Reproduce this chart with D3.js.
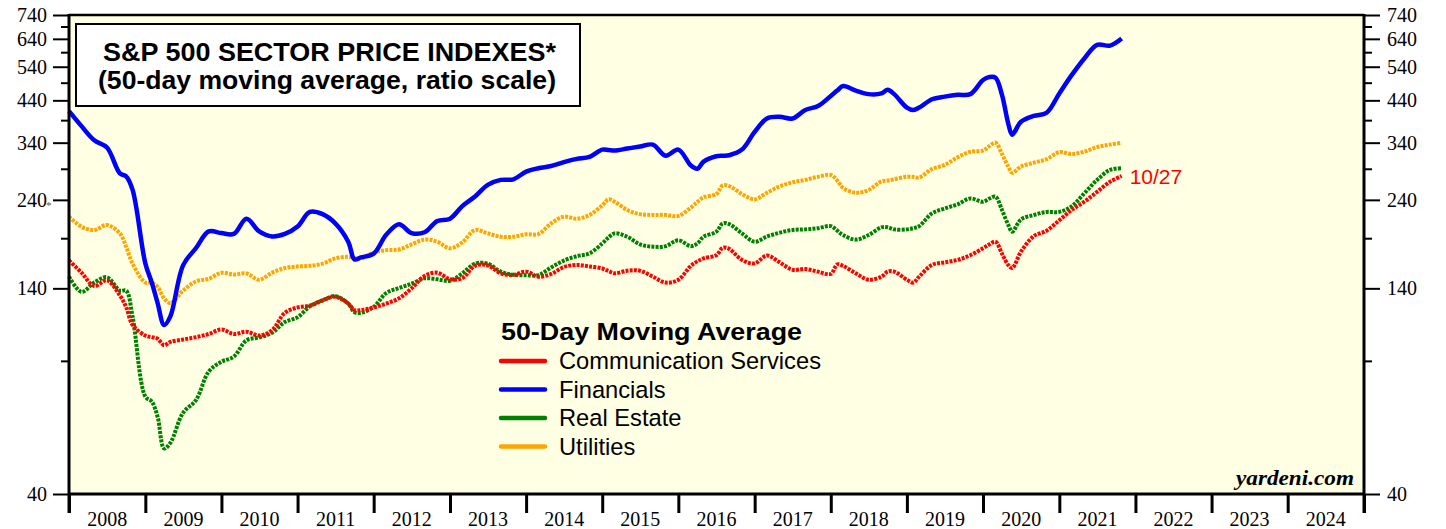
<!DOCTYPE html>
<html><head><meta charset="utf-8">
<script src="https://cdn.jsdelivr.net/npm/d3@7"></script>
<style>html,body{margin:0;padding:0;background:#fff;}svg{display:block;}</style>
</head><body>
<svg id="chart" width="1446" height="529"></svg>
<script>
const dates = ["2008-01-01","2008-03-01","2008-05-01","2008-07-01","2008-09-01","2008-10-01","2008-11-01",
"2009-01-01","2009-02-01","2009-03-01","2009-04-01","2009-05-01","2009-07-01","2009-09-01","2009-11-01",
"2010-01-01","2010-03-01","2010-05-01","2010-07-01","2010-09-01","2010-11-01",
"2011-01-01","2011-03-01","2011-05-01","2011-07-01","2011-09-01","2011-10-01","2011-11-01",
"2012-01-01","2012-03-01","2012-05-01","2012-07-01","2012-09-01","2012-11-01",
"2013-01-01","2013-03-01","2013-05-01","2013-07-01","2013-09-01","2013-11-01",
"2014-01-01","2014-03-01","2014-05-01","2014-07-01","2014-09-01","2014-11-01",
"2015-01-01","2015-02-01","2015-03-01","2015-05-01","2015-07-01","2015-09-01","2015-11-01",
"2016-01-01","2016-03-01","2016-04-01","2016-05-01","2016-07-01","2016-08-01","2016-09-01","2016-11-01",
"2017-01-01","2017-03-01","2017-05-01","2017-07-01","2017-09-01","2017-11-01",
"2018-01-01","2018-02-01","2018-03-01","2018-05-01","2018-07-01","2018-09-01","2018-10-01","2018-11-01",
"2019-01-01","2019-02-01","2019-03-01","2019-05-01","2019-07-01","2019-09-01","2019-11-01",
"2020-01-01","2020-02-01","2020-03-01","2020-04-01","2020-05-01","2020-05-20","2020-07-01","2020-09-01","2020-11-01",
"2021-01-01","2021-03-01","2021-05-01","2021-07-01","2021-09-01","2021-10-27"];

const financials = [412,376,345,330,282,277,255,
163,145,128,112,118,161,179,198,
196,195,214,198,192,195,
204,223,220,208,186,167,169,
173,194,207,196,197,211,
214,231,245,263,271,272,
285,291,295,302,308,312,
326,325,324,328,332,336,314,
326,296,290,303,313,314,315,326,
363,394,398,394,415,425,
452,467,480,467,457,459,469,457,
421,415,421,443,450,455,457,
498,507,505,455,382,357,386,400,408,
459,513,568,617,614,641];

const commServices = [166,154,142,147,134,125,112,
105,104,103,99,101,102.5,104,106,
109,106,107.5,105,108.5,120.6,
124.6,126,130,133,127.6,122.6,122.6,
124.6,127.6,131.7,140,151,154,
148,149,160.6,161,153.4,152,
155,150.3,152.8,159.4,161.4,160,
158,155.5,153.4,155.9,155.9,150.3,145,
147.5,160.6,165,168,171.3,179.3,178,166.5,
163,171,164,156.8,157.5,155,
152.8,162,160.6,153.4,147.5,150.3,155,155,
147.5,145,150.3,161.4,164,166.5,171.3,
178.7,183,186,173,161.4,158.4,175,192.5,198.9,
212,225.6,237.3,252,268,277.5];

const realEstate = [150.3,137,145,149.8,138,138,117.8,
72.4,70.2,64,52.8,54.6,65.6,70.9,84.3,
89.5,92.3,102,103.8,106.8,114,
117.4,125.5,130.2,133.5,127.6,121,120.6,
125,136,140.3,144,148.8,147.9,
146.6,153.4,162.7,162.7,155,152,
151.7,151.7,159,165.8,170.3,173.3,
184,191,195.7,191.7,183,180.4,181,
187.6,181,184,191.7,197.6,208,207,195.7,
186,192,196.5,199.7,200.5,202,
204.5,199,193.7,188.4,193.7,203,203,200.5,
200.5,202,204.5,221,227.7,233.6,242,
237.3,242,244.7,225.6,206,197.6,213,218.9,222.9,
223,230.7,249.8,271,288,291];

const utilities = [216.6,203.7,199.7,205.9,195.7,180.4,162.7,
145,145,141.3,131.7,128,138,146,148.4,
153.9,152.3,153.3,147.5,154,158.4,
160,160.6,162.7,168,169.6,168.5,168,
173.9,176.7,177.4,183,188.4,186,
178.7,185.3,199.7,195.7,191.7,191.7,
194.6,194.9,208,216.6,214,218.9,
232,240.8,237.3,225.6,220,218.9,219,
217.6,229,237,243.7,248.7,262,261,248.7,
240.8,250.7,260.5,267,271,276.3,
279.2,270,258,250.7,254.8,268.7,270,272,
276.3,276,275,289.5,297,311,321.6,
324,333,340,317.3,294,283,294,301,307.4,
321,317.3,322,331,336,340];

const seriesNames = ["Communication Services","Financials","Real Estate","Utilities"];
const seriesColors = ["#ff0000","#0000ff","#008000","#ffa500"];
const majorTicks = [40,140,240,340,440,540,640,740];
const minorTicks = [90,190,290,390,490,590,690];
const yearLabels = [2008,2009,2010,2011,2012,2013,2014,2015,2016,2017,2018,2019,2020,2021,2022,2023,2024];
const lastDateLabel = "10/27";

const svg = d3.select("#chart");
const L = 69, R = 1364, T = 15, B = 494;
const parse = d3.timeParse("%Y-%m-%d");
const x = d3.scaleTime().domain([new Date(2008,0,1), new Date(2025,0,1)]).range([L, R]);
const y = d3.scaleLog().domain([40, 740]).range([B, T]);

svg.append("rect").attr("x", L).attr("y", T).attr("width", R - L).attr("height", B - T).attr("fill", "#ffffe3");

// series
const seriesData = [commServices, financials, realEstate, utilities];
const drawOrder = [3, 2, 0, 1];
const line = d3.line().x(d => x(d[0])).y(d => y(d[1])).curve(d3.curveCatmullRom.alpha(0.5));
drawOrder.forEach(i => {
  const pts = dates.map((d, j) => [parse(d), seriesData[i][j]]);
  const p = svg.append("path").datum(pts).attr("d", line).attr("fill", "none")
    .attr("stroke", seriesColors[i]).attr("stroke-linejoin", "round");
  if (i === 1) p.attr("stroke-width", 4.5);
  else p.attr("stroke-width", 4).attr("stroke-dasharray", "3,1.2");
});

// axes
const fontSerif = "'Liberation Serif','Times New Roman',serif";
const leftMajor = d3.axisLeft(y).tickValues(majorTicks).tickSize(16).tickPadding(6).tickFormat(d3.format("d"));
const leftMinor = d3.axisLeft(y).tickValues(minorTicks).tickSize(8).tickFormat("");
const rightMajor = d3.axisRight(y).tickValues(majorTicks).tickSize(16).tickPadding(7).tickFormat(d3.format("d"));
const rightMinor = d3.axisRight(y).tickValues(minorTicks).tickSize(8).tickFormat("");
[[leftMajor, L], [leftMinor, L], [rightMajor, R], [rightMinor, R]].forEach(([ax, pos]) => {
  const g = svg.append("g").attr("transform", `translate(${pos},0)`).call(ax);
  g.select(".domain").remove();
  g.selectAll("line").attr("stroke", "#000").attr("stroke-width", 2);
  g.selectAll("text").attr("font-family", fontSerif).attr("font-size", 20).attr("fill", "#000");
});
svg.append("text").attr("x", 46).attr("y", y(240) + 9).attr("font-size", 11).attr("fill", "#555")
  .attr("font-family", fontSerif).text("*");

// x axis: year boundary ticks and centered labels
const xb = svg.append("g").attr("transform", `translate(0,${B})`);
const bounds = yearLabels.concat([2025]).map(yr => new Date(yr, 0, 1));
xb.call(d3.axisBottom(x).tickValues(bounds).tickSize(19).tickFormat(""));
xb.select(".domain").remove();
xb.selectAll("line").attr("stroke", "#000").attr("stroke-width", 3);
svg.append("g").selectAll("text").data(yearLabels).join("text")
  .attr("x", d => (x(new Date(d, 0, 1)) + x(new Date(d + 1, 0, 1))) / 2)
  .attr("y", 526).attr("text-anchor", "middle").attr("font-family", fontSerif)
  .attr("font-size", 20).attr("fill", "#000").text(d => d);

// frame
svg.append("line").attr("x1", L).attr("x2", R).attr("y1", T).attr("y2", T).attr("stroke", "#000").attr("stroke-width", 2.5);
svg.append("line").attr("x1", L).attr("x2", R).attr("y1", B).attr("y2", B).attr("stroke", "#000").attr("stroke-width", 3);
svg.append("line").attr("x1", L).attr("x2", L).attr("y1", T - 1).attr("y2", 513).attr("stroke", "#000").attr("stroke-width", 3);
svg.append("line").attr("x1", R).attr("x2", R).attr("y1", T - 1).attr("y2", 513).attr("stroke", "#000").attr("stroke-width", 3);

// title box
const fontSans = "'Liberation Sans',Arial,Helvetica,sans-serif";
svg.append("rect").attr("x", 76).attr("y", 24).attr("width", 504).attr("height", 82)
  .attr("fill", "#fff").attr("stroke", "#000").attr("stroke-width", 2);
svg.append("text").attr("x", 329.5).attr("y", 61).attr("text-anchor", "middle")
  .attr("font-family", fontSans).attr("font-weight", "bold").attr("font-size", 25)
  .attr("textLength", 453).attr("lengthAdjust", "spacingAndGlyphs").text("S&P 500 SECTOR PRICE INDEXES*");
svg.append("text").attr("x", 327).attr("y", 89).attr("text-anchor", "middle")
  .attr("font-family", fontSans).attr("font-weight", "bold").attr("font-size", 25)
  .attr("textLength", 458).attr("lengthAdjust", "spacingAndGlyphs").text("(50-day moving average, ratio scale)");

// legend
svg.append("text").attr("x", 501).attr("y", 340).attr("font-family", fontSans).attr("font-weight", "bold")
  .attr("font-size", 23).attr("textLength", 301).attr("lengthAdjust", "spacingAndGlyphs").text("50-Day Moving Average");
const lg = svg.append("g").selectAll("g").data(seriesNames).join("g")
  .attr("transform", (d, i) => `translate(0,${361 + i * 28.5})`);
lg.append("line").attr("x1", 501).attr("x2", 545).attr("stroke", (d, i) => seriesColors[i])
  .attr("stroke-width", 4.5).attr("stroke-linecap", "round");
lg.append("text").attr("x", 559).attr("y", 8).attr("font-family", fontSans).attr("font-size", 23.7)
  .attr("fill", "#000").text(d => d);

// end label
svg.append("text").attr("x", x(parse(dates[dates.length - 1])) + 8).attr("y", 184)
  .attr("font-family", fontSans).attr("font-size", 21).attr("fill", "#ff0000").text(lastDateLabel);

// source
svg.append("text").attr("x", 1354).attr("y", 485).attr("text-anchor", "end")
  .attr("font-family", fontSerif).attr("font-weight", "bold").attr("font-style", "italic")
  .attr("font-size", 21).attr("textLength", 118).attr("lengthAdjust", "spacingAndGlyphs").text("yardeni.com");
</script>
</body></html>
